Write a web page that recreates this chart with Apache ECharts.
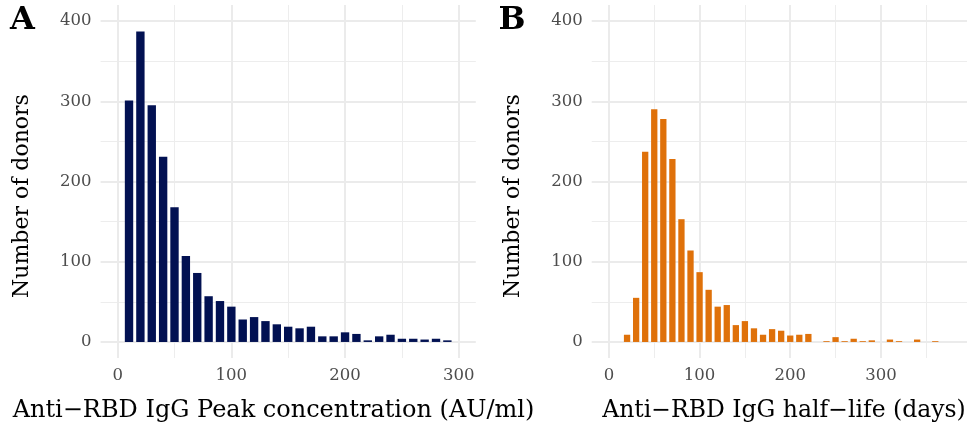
<!DOCTYPE html>
<html><head><meta charset="utf-8">
<script src="https://cdn.jsdelivr.net/npm/echarts@6/dist/echarts.min.js"></script>
<style>html,body{margin:0;padding:0;background:#fff}#c{width:967px;height:432px}</style>
</head><body><div id="c"></div>
<script>
// ---- data ----
const peakBins = [10,20,30,40,50,60,70,80,90,100,110,120,130,140,150,160,170,180,190,200,210,220,230,240,250,260,270,280,290];
const peakCounts = [301,387,295,231,168,107,86,57,51,44,28,31,26,22,19,17,19,7,7,12,10,2,7,9,4,4,3,4,2];
const halfLifeBins = [10,20,30,40,50,60,70,80,90,100,110,120,130,140,150,160,170,180,190,200,210,220,230,240,250,260,270,280,290,300,310,320,330,340,350,360];
const halfLifeCounts = [0,9,55,237,290,278,228,153,114,87,65,44,46,21,26,17,9,16,14,8,9,10,0,1,6,1,4,1,2,0,3,1,0,3,0,1];
const xTicksA = [0,100,200,300];
const xMinorA = [50,150,250];
const xTicksB = [0,100,200,300];
const xMinorB = [50,150,250,350];
const yTicks = [0,100,200,300,400];
const yMinor = [50,150,250,350];
const titleA = 'Anti\u2212RBD IgG Peak concentration (AU/ml)';
const titleB = 'Anti\u2212RBD IgG half\u2212life (days)';
const yTitle = 'Number of donors';
const panelTags = ['A','B'];
const binWidth = 10;

// ---- layout ----
const FONT = '"DejaVu Serif", serif';
const grids = [
  {left:100.6, top:5, width:375.2, height:353, xmin:-15, xmax:315},
  {left:591.7, top:5, width:385, height:353, xmin:-19, xmax:395}
];
const colors = ['#021152', '#DF710A'];
const majorGrid = {color:'#EBEBEB', width:2, type:'solid'};
const minorGrid = {color:'#EDEDED', width:1, type:'solid'};

function gridSeries(i, xMaj, xMin) {
  const d = [];
  xMin.forEach(v => d.push({xAxis:v, lineStyle:minorGrid}));
  yMinor.forEach(v => d.push({yAxis:v, lineStyle:minorGrid}));
  xMaj.forEach(v => d.push({xAxis:v, lineStyle:majorGrid}));
  yTicks.forEach(v => d.push({yAxis:v, lineStyle:majorGrid}));
  return {
    type:'line', xAxisIndex:i, yAxisIndex:i, data:[], z:0, silent:true,
    markLine:{z:0, zlevel:0, silent:true, symbol:['none','none'], label:{show:false}, animation:false,
      emphasis:{disabled:true}, data:d}
  };
}
function barSeries(i, bins, counts) {
  const g = grids[i];
  const px = binWidth * g.width / (g.xmax - g.xmin) - 3;
  return {
    type:'bar', xAxisIndex:i, yAxisIndex:i, z:5,
    data: bins.map((b, k) => [b, counts[k]]),
    barWidth: px,
    itemStyle:{color:colors[i]},
    emphasis:{disabled:true}
  };
}
const xTickSets = [xTicksA, xTicksB];
const option = {
  animation:false,
  grid: grids.map(g => ({left:g.left, top:g.top, width:g.width, height:g.height, containLabel:false})),
  xAxis: grids.map((g, i) => ({
    type:'value', gridIndex:i, min:g.xmin, max:g.xmax,
    axisLine:{show:false, onZero:false}, axisTick:{show:false, customValues:xTickSets[i]},
    splitLine:{show:false},
    axisLabel:{customValues:xTickSets[i], color:'#4D4D4D', fontFamily:FONT, fontSize:16.5, margin:9}
  })),
  yAxis: grids.map((g, i) => ({
    type:'value', gridIndex:i, min:-20, max:420,
    axisLine:{show:false, onZero:false}, axisTick:{show:false, customValues:yTicks},
    splitLine:{show:false},
    axisLabel:{customValues:yTicks, color:'#4D4D4D', fontFamily:FONT, fontSize:16.5, margin:9}
  })),
  series:[
    gridSeries(0, xTicksA, xMinorA),
    gridSeries(1, xTicksB, xMinorB),
    barSeries(0, peakBins, peakCounts),
    barSeries(1, halfLifeBins, halfLifeCounts)
  ],
  graphic:[
    {type:'text', x:273.5, y:411, style:{text:titleA, fontFamily:FONT, fontSize:24, fill:'#000', align:'center', verticalAlign:'middle'}},
    {type:'text', x:784, y:411, style:{text:titleB, fontFamily:FONT, fontSize:23.5, fill:'#000', align:'center', verticalAlign:'middle'}},
    {type:'text', x:22, y:196, rotation:Math.PI/2, style:{text:yTitle, fontFamily:FONT, fontSize:22, fill:'#000', align:'center', verticalAlign:'middle'}},
    {type:'text', x:513, y:196, rotation:Math.PI/2, style:{text:yTitle, fontFamily:FONT, fontSize:22, fill:'#000', align:'center', verticalAlign:'middle'}},
    {type:'text', x:22.5, y:21, style:{text:panelTags[0], fontFamily:FONT, fontWeight:'bold', fontSize:32, fill:'#000', align:'center', verticalAlign:'middle'}},
    {type:'text', x:512, y:21, style:{text:panelTags[1], fontFamily:FONT, fontWeight:'bold', fontSize:32, fill:'#000', align:'center', verticalAlign:'middle'}}
  ]
};
const chart = echarts.init(document.getElementById('c'), null, {renderer:'canvas'});
chart.setOption(option);
</script>
</body></html>
